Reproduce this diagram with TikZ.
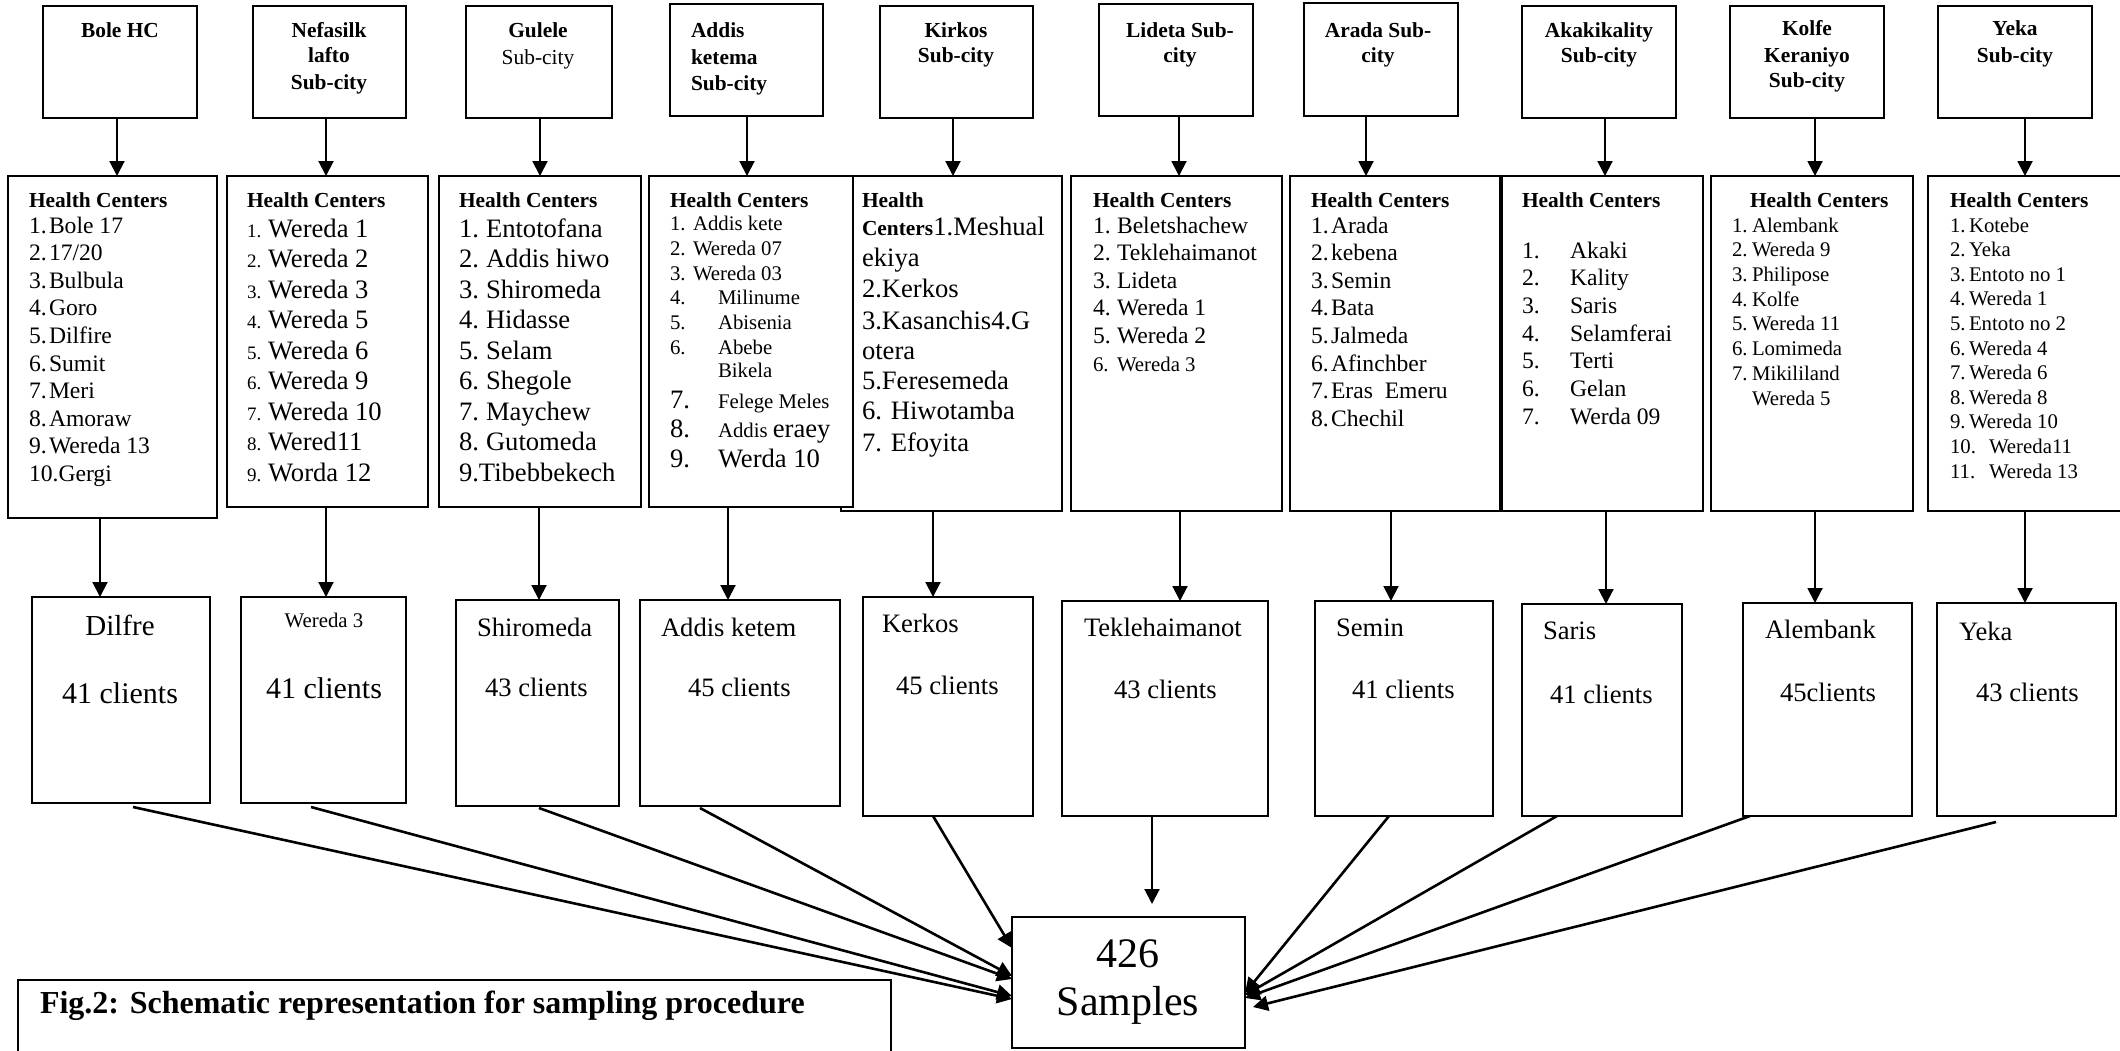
\documentclass[tikz,border=0pt]{standalone}
\usepackage{fontspec}
\setmainfont{Liberation Serif}
\usetikzlibrary{arrows.meta,fit}
\newcommand\fHd{\fontsize{10.7pt}{13pt}\selectfont\bfseries}
\newcommand\fRg{\fontsize{10.7pt}{13pt}\selectfont}
\newcommand\fSm{\fontsize{10.4pt}{12pt}\selectfont}
\newcommand\fMd{\fontsize{11.8pt}{14pt}\selectfont}
\newcommand\fLg{\fontsize{13.3pt}{15pt}\selectfont}
\newcommand\fXl{\fontsize{15pt}{17pt}\selectfont}
\newcommand\fXm{\fontsize{14.5pt}{17pt}\selectfont}
\newcommand\fLb{\fontsize{9.5pt}{11pt}\selectfont}
\newcommand\fCap{\fontsize{16pt}{19pt}\selectfont\bfseries}
\newcommand\fSam{\fontsize{21pt}{24pt}\selectfont}
% list helper: prefix, x label, x text, first baseline, spacing, label font, text font, items
\newcommand\hclist[8]{%
  \foreach \hcL/\hcT [count=\hcN] in {#8}{%
    \node[tx,anchor=base west,font=#6] (#1l\hcN) at (#2,{#4+(\hcN-1)*#5}) {\hcL};
    \node[tx,anchor=base west,font=#7] (#1t\hcN) at (#3,{#4+(\hcN-1)*#5}) {\hcT};
  }}
\begin{document}
\begin{tikzpicture}[x=0.5pt,y=-0.5pt,
  box/.style={draw,line width=1.1pt,inner sep=0pt,outer sep=0pt,fill=white},
  tx/.style={inner sep=0pt,outer sep=0pt},
  arr/.style={line width=1pt,-{Triangle[length=7.5pt,width=7.5pt]}},
  darr/.style={line width=1.3pt,-{Triangle[length=7.5pt,width=7.5pt]}}]
\fill[white] (0,0) rectangle (2120,1050);
\useasboundingbox (0,0) rectangle (2120,1050);

% ---------- top sub-city boxes ----------
\node[box,fit={(43,6) (197,118)}] (t1) {};
\node[box,fit={(253,6) (406,118)}] (t2) {};
\node[box,fit={(466,6) (612,118)}] (t3) {};
\node[box,fit={(670,4) (823,116)}] (t4) {};
\node[box,fit={(880,6) (1033,118)}] (t5) {};
\node[box,fit={(1099,4) (1253,116)}] (t6) {};
\node[box,fit={(1304,3) (1458,116)}] (t7) {};
\node[box,fit={(1522,6) (1676,118)}] (t8) {};
\node[box,fit={(1730,6) (1884,118)}] (t9) {};
\node[box,fit={(1938,6) (2092,118)}] (t10) {};

\node[tx,anchor=base,font=\fHd] (t1a) at (120,37) {Bole HC};
\node[tx,anchor=base,font=\fHd] (t2a) at (329,37) {Nefasilk};
\node[tx,anchor=base,font=\fHd] (t2b) at (329,62) {lafto};
\node[tx,anchor=base,font=\fHd] (t2c) at (329,89) {Sub-city};
\node[tx,anchor=base,font=\fHd] (t3a) at (538,37) {Gulele};
\node[tx,anchor=base,font=\fRg] (t3b) at (538,64) {Sub-city};
\node[tx,anchor=base west,font=\fHd] (t4a) at (691,37) {Addis};
\node[tx,anchor=base west,font=\fHd] (t4b) at (691,64) {ketema};
\node[tx,anchor=base west,font=\fHd] (t4c) at (691,90) {Sub-city};
\node[tx,anchor=base,font=\fHd] (t5a) at (956,37) {Kirkos};
\node[tx,anchor=base,font=\fHd] (t5b) at (956,62) {Sub-city};
\node[tx,anchor=base,font=\fHd] (t6a) at (1180,37) {Lideta Sub-};
\node[tx,anchor=base,font=\fHd] (t6b) at (1180,62) {city};
\node[tx,anchor=base,font=\fHd] (t7a) at (1378,37) {Arada Sub-};
\node[tx,anchor=base,font=\fHd] (t7b) at (1378,62) {city};
\node[tx,anchor=base,font=\fHd] (t8a) at (1599,37) {Akakikality};
\node[tx,anchor=base,font=\fHd] (t8b) at (1599,62) {Sub-city};
\node[tx,anchor=base,font=\fHd] (t9a) at (1807,35) {Kolfe};
\node[tx,anchor=base,font=\fHd] (t9b) at (1807,62) {Keraniyo};
\node[tx,anchor=base,font=\fHd] (t9c) at (1807,87) {Sub-city};
\node[tx,anchor=base,font=\fHd] (t10a) at (2015,35) {Yeka};
\node[tx,anchor=base,font=\fHd] (t10b) at (2015,62) {Sub-city};

% ---------- health centre boxes ----------
\node[box,fit={(8,176) (217,518)}] (h1) {};
\node[box,fit={(227,176) (428,507)}] (h2) {};
\node[box,fit={(439,176) (641,507)}] (h3) {};
\node[box,fit={(841,176) (1062,511)}] (h5) {};
\node[box,fit={(649,176) (853,507)}] (h4) {};
\node[box,fit={(1071,176) (1282,511)}] (h6) {};
\node[box,fit={(1290,176) (1500,511)}] (h7) {};
\node[box,fit={(1502,176) (1703,511)}] (h8) {};
\node[box,fit={(1711,176) (1913,511)}] (h9) {};
\node[box,fit={(1928,176) (2126,511)}] (h10) {};

% Bole
\node[tx,anchor=base west,font=\fHd] (bh) at (29,207) {Health Centers};
\hclist{b}{29}{49}{233}{27.6}{\fMd}{\fMd}{1./Bole 17, 2./{17/20}, 3./Bulbula, 4./Goro, 5./Dilfire, 6./Sumit, 7./Meri, 8./Amoraw, 9./Wereda 13}
\node[tx,anchor=base west,font=\fMd] (b10) at (29,481) {10.Gergi};
% Nefasilk
\node[tx,anchor=base west,font=\fHd] (nh) at (247,207) {Health Centers};
\hclist{n}{247}{268}{237}{30.5}{\fLb}{\fLg}{1./Wereda 1, 2./Wereda 2, 3./Wereda 3, 4./Wereda 5, 5./Wereda 6, 6./Wereda 9, 7./Wereda 10, 8./Wered11, 9./Worda 12}
% Gulele
\node[tx,anchor=base west,font=\fHd] (gh) at (459,207) {Health Centers};
\hclist{g}{459}{486}{237}{30.5}{\fLg}{\fLg}{1./Entotofana, 2./Addis hiwo, 3./Shiromeda, 4./Hidasse, 5./Selam, 6./Shegole, 7./Maychew, 8./Gutomeda}
\node[tx,anchor=base west,font=\fLg] (g9) at (459,481) {9.Tibebbekech};
% Addis ketema
\node[tx,anchor=base west,font=\fHd] (ah) at (670,207) {Health Centers};
\hclist{a}{670}{693}{230}{25}{\fSm}{\fSm}{1./Addis kete, 2./Wereda 07, 3./Wereda 03}
\hclist{ab}{670}{718}{304}{25}{\fSm}{\fSm}{4./Milinume, 5./Abisenia, 6./Abebe}
\node[tx,anchor=base west,font=\fSm] (ab6b) at (718,377) {Bikela};
\node[tx,anchor=base west,font=\fLg] (a7l) at (670,408) {7.};
\node[tx,anchor=base west,font=\fSm] (a7t) at (718,408) {Felege Meles};
\node[tx,anchor=base west,font=\fLg] (a8l) at (670,437) {8.};
\node[tx,anchor=base west,font=\fSm] (a8t) at (718,437) {Addis {\fLg eraey}};
\node[tx,anchor=base west,font=\fLg] (a9l) at (670,467) {9.};
\node[tx,anchor=base west,font=\fLg] (a9t) at (718,467) {Werda 10};
% Kirkos
\node[tx,anchor=base west,font=\fHd] (kh) at (862,207) {Health};
\node[tx,anchor=base west,font=\fLg] (k1) at (862,235) {{\fHd Centers}1.Meshual};
\node[tx,anchor=base west,font=\fLg] (k2) at (862,266) {ekiya};
\node[tx,anchor=base west,font=\fLg] (k3) at (862,297) {2.Kerkos};
\node[tx,anchor=base west,font=\fLg] (k4) at (862,329) {3.Kasanchis4.G};
\node[tx,anchor=base west,font=\fLg] (k5) at (862,359) {otera};
\node[tx,anchor=base west,font=\fLg] (k6) at (862,389) {5.Feresemeda};
\node[tx,anchor=base west,font=\fLg] (k7) at (862,419) {6. Hiwotamba};
\node[tx,anchor=base west,font=\fLg] (k8) at (862,451) {7. Efoyita};
% Lideta
\node[tx,anchor=base west,font=\fHd] (lh) at (1093,207) {Health Centers};
\hclist{l}{1093}{1117}{233}{27.6}{\fMd}{\fMd}{1./Beletshachew, 2./Teklehaimanot, 3./Lideta, 4./Wereda 1, 5./Wereda 2}
\node[tx,anchor=base west,font=\fSm] (l6l) at (1093,371) {6.};
\node[tx,anchor=base west,font=\fSm] (l6t) at (1117,371) {Wereda 3};
% Arada
\node[tx,anchor=base west,font=\fHd] (rh) at (1311,207) {Health Centers};
\hclist{r}{1311}{1331}{233}{27.6}{\fMd}{\fMd}{1./Arada, 2./kebena, 3./Semin, 4./Bata, 5./Jalmeda, 6./Afinchber, 7./Eras~~Emeru, 8./Chechil}
% Akakikality
\node[tx,anchor=base west,font=\fHd] (kah) at (1522,207) {Health Centers};
\hclist{ka}{1522}{1570}{258}{27.7}{\fMd}{\fMd}{1./Akaki, 2./Kality, 3./Saris, 4./Selamferai, 5./Terti, 6./Gelan, 7./Werda 09}
% Kolfe
\node[tx,anchor=base west,font=\fHd] (fh) at (1750,207) {Health Centers};
\hclist{f}{1732}{1752}{232}{24.7}{\fSm}{\fSm}{1./Alembank, 2./Wereda 9, 3./Philipose, 4./Kolfe, 5./Wereda 11, 6./Lomimeda, 7./Mikililand}
\node[tx,anchor=base west,font=\fSm] (f7b) at (1752,405) {Wereda 5};
% Yeka
\node[tx,anchor=base west,font=\fHd] (yh) at (1950,207) {Health Centers};
\hclist{y}{1950}{1969}{232}{24.6}{\fSm}{\fSm}{1./Kotebe, 2./Yeka, 3./Entoto no 1, 4./Wereda 1, 5./Entoto no 2, 6./Wereda 4, 7./Wereda 6, 8./Wereda 8, 9./Wereda 10}
\node[tx,anchor=base west,font=\fSm] (y10l) at (1950,453) {10.};
\node[tx,anchor=base west,font=\fSm] (y10t) at (1989,453) {Wereda11};
\node[tx,anchor=base west,font=\fSm] (y11l) at (1950,478) {11.};
\node[tx,anchor=base west,font=\fSm] (y11t) at (1989,478) {Wereda 13};

% ---------- sampled health centre boxes ----------
\node[box,fit={(32,597) (210,803)}] (s1) {};
\node[box,fit={(241,597) (406,803)}] (s2) {};
\node[box,fit={(456,600) (619,806)}] (s3) {};
\node[box,fit={(640,600) (840,806)}] (s4) {};
\node[box,fit={(863,597) (1033,816)}] (s5) {};
\node[box,fit={(1062,601) (1268,816)}] (s6) {};
\node[box,fit={(1315,601) (1493,816)}] (s7) {};
\node[box,fit={(1522,604) (1682,816)}] (s8) {};
\node[box,fit={(1743,603) (1912,816)}] (s9) {};
\node[box,fit={(1937,603) (2116,816)}] (s10) {};

\node[tx,anchor=base,font=\fXm] (s1a) at (120,635) {Dilfre};
\node[tx,anchor=base,font=\fXl] (s1b) at (120,703) {41 clients};
\node[tx,anchor=base,font=\fSm] (s2a) at (324,627) {Wereda 3};
\node[tx,anchor=base,font=\fXl] (s2b) at (324,698) {41 clients};
\node[tx,anchor=base west,font=\fLg] (s3a) at (477,636) {Shiromeda};
\node[tx,anchor=base west,font=\fLg] (s3b) at (485,696) {43 clients};
\node[tx,anchor=base west,font=\fLg] (s4a) at (661,636) {Addis ketem};
\node[tx,anchor=base west,font=\fLg] (s4b) at (688,696) {45 clients};
\node[tx,anchor=base west,font=\fLg] (s5a) at (882,632) {Kerkos};
\node[tx,anchor=base west,font=\fLg] (s5b) at (896,694) {45 clients};
\node[tx,anchor=base west,font=\fLg] (s6a) at (1084,636) {Teklehaimanot};
\node[tx,anchor=base west,font=\fLg] (s6b) at (1114,698) {43 clients};
\node[tx,anchor=base west,font=\fLg] (s7a) at (1336,636) {Semin};
\node[tx,anchor=base west,font=\fLg] (s7b) at (1352,698) {41 clients};
\node[tx,anchor=base west,font=\fLg] (s8a) at (1543,639) {Saris};
\node[tx,anchor=base west,font=\fLg] (s8b) at (1550,703) {41 clients};
\node[tx,anchor=base west,font=\fLg] (s9a) at (1765,638) {Alembank};
\node[tx,anchor=base west,font=\fLg] (s9b) at (1780,701) {45clients};
\node[tx,anchor=base west,font=\fLg] (s10a) at (1959,640) {Yeka};
\node[tx,anchor=base west,font=\fLg] (s10b) at (1976,701) {43 clients};

% ---------- total and caption ----------
\node[box,fit={(1012,917) (1245,1048)}] (S) {};
\node[tx,anchor=base,font=\fSam] (Sa) at (1128,967) {426};
\node[tx,anchor=base,font=\fSam] (Sb) at (1128,1015) {Samples};
\node[box,fit={(18,980) (891,1070)}] (cap) {};
\node[tx,anchor=base west,font=\fCap] (capt) at (40,1013) {Fig.2: Schematic representation for sampling procedure};

% ---------- connectors: sub-city -> health centres ----------
\draw[arr] (t1.south -| 117,0) -- (h1.north -| 117,0);
\draw[arr] (t2.south -| 326,0) -- (h2.north -| 326,0);
\draw[arr] (t3.south -| 540,0) -- (h3.north -| 540,0);
\draw[arr] (t4.south -| 747,0) -- (h4.north -| 747,0);
\draw[arr] (t5.south -| 953,0) -- (h5.north -| 953,0);
\draw[arr] (t6.south -| 1179,0) -- (h6.north -| 1179,0);
\draw[arr] (t7.south -| 1366,0) -- (h7.north -| 1366,0);
\draw[arr] (t8.south -| 1605,0) -- (h8.north -| 1605,0);
\draw[arr] (t9.south -| 1815,0) -- (h9.north -| 1815,0);
\draw[arr] (t10.south -| 2025,0) -- (h10.north -| 2025,0);

% ---------- health centres -> sampled centre ----------
\draw[arr] (h1.south -| 100,0) -- (s1.north -| 100,0);
\draw[arr] (h2.south -| 326,0) -- (s2.north -| 326,0);
\draw[arr] (h3.south -| 539,0) -- (s3.north -| 539,0);
\draw[arr] (h4.south -| 728,0) -- (s4.north -| 728,0);
\draw[arr] (h5.south -| 933,0) -- (s5.north -| 933,0);
\draw[arr] (h6.south -| 1180,0) -- (s6.north -| 1180,0);
\draw[arr] (h7.south -| 1391,0) -- (s7.north -| 1391,0);
\draw[arr] (h8.south -| 1606,0) -- (s8.north -| 1606,0);
\draw[arr] (h9.south -| 1815,0) -- (s9.north -| 1815,0);
\draw[arr] (h10.south -| 2025,0) -- (s10.north -| 2025,0);

% ---------- sampled centres -> total ----------
\coordinate (Stop) at (1152,904);
\coordinate (eY) at (1253,1007);
\draw[darr] ([yshift=-2pt]s1.south -| 133,0) -- (S.west |- 0,999);
\draw[darr] ([yshift=-2pt]s2.south -| 311,0) -- (S.west |- 0,996);
\draw[darr] ([yshift=-1pt]s3.south -| 539,0) -- (S.west |- 0,979);
\draw[darr] ([yshift=-1pt]s4.south -| 700,0) -- (S.west |- 0,976);
\draw[darr] (s5.south -| 933,0) -- (S.west |- 0,948);
\draw[arr] (s6.south -| 1152,0) -- (Stop);
\draw[darr] (s7.south -| 1389,0) -- (S.east |- 0,993);
\draw[darr] (s8.south -| 1557,0) -- (S.east |- 0,995);
\draw[darr] (s9.south -| 1750,0) -- (S.east |- 0,998);
\draw[darr] ([yshift=-3pt]s10.south -| 1996,0) -- (eY);
\end{tikzpicture}
\end{document}
